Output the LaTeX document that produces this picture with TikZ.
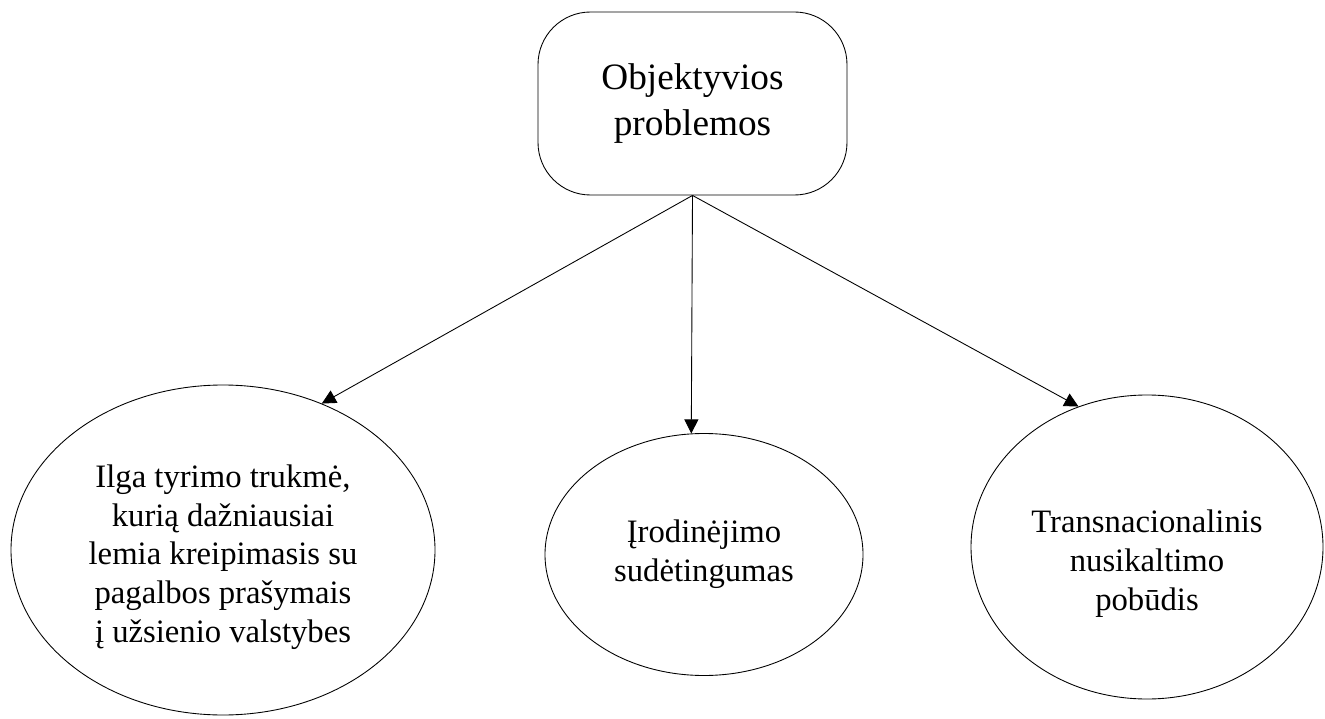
\documentclass[tikz,border=0pt]{standalone}
\usepackage{fontspec}
\setmainfont{Liberation Serif}
\usetikzlibrary{arrows.meta,shapes.geometric}
\tikzset{
  probl/.style={draw,ellipse,inner sep=0pt,align=center,font=\fontsize{18.6}{22.1}\selectfont}
}

\begin{document}
\begin{tikzpicture}[>={Triangle[width=8pt,length=8pt]},line width=0.5pt]
      \useasboundingbox (0,0) rectangle (26.5,-14.38);
      \node [draw,rounded corners=1.05cm,minimum width=6.18cm,minimum height=3.66cm,align=center,font=\fontsize{21.2}{26.5}\selectfont] (1) at (13.85,-2.07) {Objektyvios\\problemos};
      \node [probl,below of=1,xshift=-9.39cm,yshift=-7.93cm,minimum width=8.48cm,minimum height=6.6cm] (2) {\rule{0pt}{21pt}Ilga tyrimo trukmė,\\kurią dažniausiai\\lemia kreipimasis su\\pagalbos prašymais\\į užsienio valstybes};
      \node [probl,below of=1,xshift=0.23cm,yshift=-8.02cm,minimum width=6.36cm,minimum height=4.84cm] (3) {Įrodinėjimo\\sudėtingumas};
      \node [probl,below of=1,xshift=9.09cm,yshift=-7.87cm,minimum width=7.04cm,minimum height=6.08cm] (4) {\rule{0pt}{32pt}Transnacionalinis\\nusikaltimo\\pobūdis};

      \draw[->] (1.south) -- (2.56);
      \draw[->] (1.south) -- (3.96);
      \draw[->] (1.south) -- (4.116);
    \end{tikzpicture}
\end{document}
